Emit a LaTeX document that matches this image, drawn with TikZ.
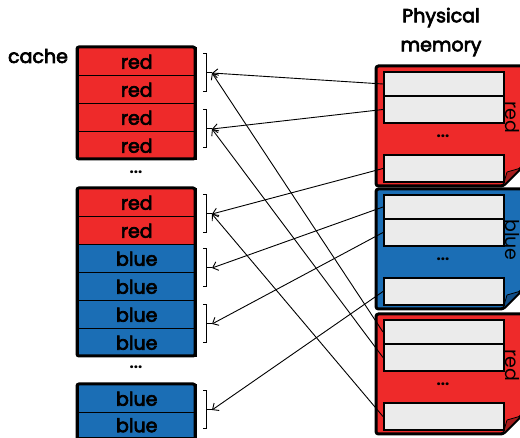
\documentclass[tikz,border=0pt]{standalone}
\usepackage{fontspec}
\setmainfont{Poppins}
\newfontfamily\lblfont{Poppins}[FakeBold=3.5]
\usetikzlibrary{arrows.meta}
\definecolor{cred}{RGB}{238,42,42}
\definecolor{cblue}{RGB}{27,110,181}
\definecolor{cgray}{RGB}{235,235,235}
\definecolor{dred}{RGB}{165,28,28}
\definecolor{dblue}{RGB}{18,78,135}
\begin{document}
\begin{tikzpicture}[x=1pt,y=-1pt,
  txt/.style={font=\fontsize{19}{29}\selectfont\lblfont, inner sep=0pt},
  cell/.style={txt, draw=black, line width=1.5pt, minimum width=118pt, minimum height=28pt, anchor=north west},
  grp/.style={draw=black, line width=3pt, rounded corners=2pt},
  page/.style={draw=black, line width=3pt, rounded corners=2.5pt},
  mbox/.style={draw=black, fill=cgray, line width=2pt, minimum width=120pt, inner sep=0pt, anchor=north west},
  brk/.style={draw=black, line width=1pt},
  link/.style={draw=black, line width=0.9pt, -{Straight Barb[length=5pt,width=9pt]}},
  dots/.style={font=\fontsize{15}{15}\selectfont\bfseries, inner sep=0pt}
]
\useasboundingbox (0,0) rectangle (520,438);
\clip (0,0) rectangle (520,438);

% labels
\node[txt] (cachelbl) at (38,56) {cache};
\node[txt, align=center] (pmlbl) at (441,32) {Physical\\memory};

% cache cells
\foreach \n/\y/\c/\t in {c1/47/cred/red, c2/75/cred/red, c3/103/cred/red, c4/131/cred/red,
  c5/188/cred/red, c6/216/cred/red, c7/244/cblue/blue, c8/272/cblue/blue, c9/300/cblue/blue, c10/328/cblue/blue,
  c11/384/cblue/blue}
  \node[cell, fill=\c] (\n) at (77,\y) {\t};
\node[cell, fill=cblue, minimum height=25pt] (c12) at (77,412) {blue};
\draw[grp] (77,47) rectangle (195,159);
\draw[grp] (77,188) rectangle (195,356);
\draw[grp] (77,384) rectangle (195,446);
\node[dots] (cd1) at (136,172) {...};
\node[dots] (cd2) at (136,367) {...};

% brackets
\foreach \n/\yc in {b1/73, b2/129, b3/214, b4/268, b5/324, b6/410} {
  \coordinate (\n) at (212,\yc);
  \draw[brk] (203,\yc-19) -- (206,\yc-19) -- (206,\yc+19) -- (203,\yc+19);
  \draw[brk] (206,\yc) -- (\n);
}

% physical memory pages
\foreach \p/\T/\fc/\dc/\lab in {1/66/cred/dred/red, 2/189/cblue/dblue/blue, 3/314/cred/dred/red} {
  \draw[page, fill=\fc] (376,\T) -- (540,\T) -- (540,\T+83) -- (503,\T+120) -- (376,\T+120) -- cycle;
  \draw[fill=\dc, draw=black, line width=0.8pt, line join=round] (503,\T+120) -- (507,\T+106) -- (521,\T+102) -- cycle;
  \node[mbox, minimum height=24pt] (m\p a) at (383,\T+5) {};
  \node[mbox, minimum height=27pt] (m\p b) at (383,\T+29) {};
  \node[mbox, minimum height=27pt] (m\p c) at (383,\T+88) {};
  \node[dots] (md\p) at (443,\T+70) {...};
  \node[font=\fontsize{19}{19}\selectfont, inner sep=0pt, rotate=-90] (pl\p) at (512,\T+51) {\lab};
}

% links
\draw[link] (m1a.west) -- (b1);
\draw[link] (m1b.west) -- (b2);
\draw[link] (m1c.west) -- (b3);
\draw[link] (m2a.west) -- (b4);
\draw[link] (m2b.west) -- (b5);
\draw[link] (m2c.west) -- (b6);
\draw[link] (m3a.west) -- (b1);
\draw[link] (m3b.west) -- (b2);
\draw[link] (m3c.west) -- (b3);
\end{tikzpicture}
\end{document}
